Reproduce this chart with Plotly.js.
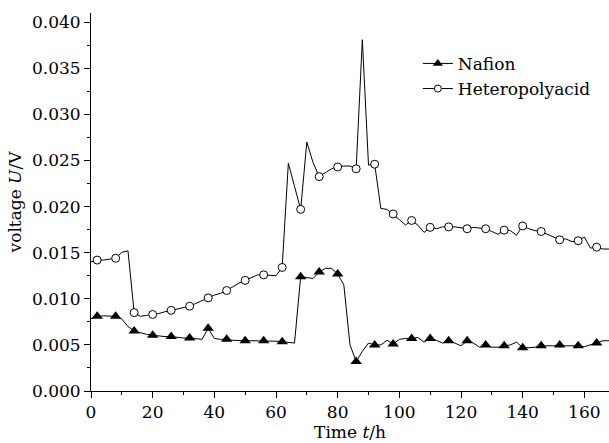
<!DOCTYPE html>
<html>
<head>
<meta charset="utf-8">
<script src="https://cdn.plot.ly/plotly-3.0.1.min.js"></script>
<style>html,body{margin:0;padding:0;background:#fff}#chart{width:609px;height:443px}</style>
</head>
<body>
<div id="chart"></div>
<script>
// Time (h) of each recorded sample
const hours = [0,2,4,6,8,10,12,14,16,18,20,22,24,26,28,30,32,34,36,38,40,42,44,46,48,50,52,54,56,58,60,62,64,66,68,70,72,74,76,78,80,82,84,86,88,90,92,94,96,98,100,102,104,106,108,110,112,114,116,118,120,122,124,126,128,130,132,134,136,138,140,142,144,146,148,150,152,154,156,158,160,162,164,166,168];

// Voltage (V), Nafion membrane
const nafion = [0.00785,0.0081,0.00815,0.0081,0.0081,0.0078,0.0070,0.0065,0.0063,0.00615,0.00605,0.00595,0.0059,0.0059,0.0058,0.00575,0.00575,0.00565,0.0056,0.0068,0.0057,0.0056,0.0056,0.0055,0.00545,0.00545,0.00545,0.00545,0.00545,0.0054,0.0054,0.00535,0.0053,0.0052,0.0124,0.0123,0.0122,0.0129,0.0133,0.0133,0.0127,0.0115,0.0050,0.0032,0.0043,0.0052,0.0050,0.0050,0.0055,0.0051,0.0056,0.0057,0.0057,0.0058,0.0053,0.0057,0.0055,0.0052,0.00545,0.0052,0.0049,0.00545,0.0052,0.00475,0.0050,0.00475,0.00475,0.0049,0.0050,0.0053,0.0047,0.0047,0.00475,0.0049,0.0049,0.0049,0.0050,0.0049,0.0049,0.0049,0.0048,0.0050,0.0052,0.00545,0.00545];

// Voltage (V), heteropolyacid membrane
const heteropolyacid = [0.0140,0.0142,0.0142,0.0143,0.0144,0.01505,0.0152,0.0085,0.0081,0.0082,0.0083,0.0084,0.0086,0.00875,0.0089,0.0091,0.0092,0.0095,0.0098,0.0101,0.0104,0.0106,0.0109,0.0113,0.0117,0.0120,0.0123,0.0126,0.0126,0.01255,0.0125,0.0134,0.0247,0.0222,0.0197,0.0270,0.0248,0.02325,0.0237,0.0241,0.0243,0.0244,0.0244,0.0241,0.0381,0.0245,0.0246,0.0198,0.0197,0.0192,0.0186,0.0180,0.0185,0.0180,0.0172,0.01775,0.0176,0.0178,0.0178,0.0178,0.0177,0.0176,0.01775,0.0177,0.0176,0.0173,0.0170,0.01745,0.0174,0.0169,0.0179,0.0176,0.0174,0.0173,0.0170,0.0167,0.0164,0.0165,0.0162,0.0163,0.0167,0.0155,0.0156,0.0154,0.0154];

// Hours at which a symbol is drawn on each curve
const markerHours = [2,8,14,20,26,32,38,44,50,56,62,68,74,80,86,92,98,104,110,116,122,128,134,140,146,152,158,164];

const seriesNames = ["Nafion", "Heteropolyacid"];

function pick(values) {
  return markerHours.map(h => values[hours.indexOf(h)]);
}

const lineStyle = {color: "#000", width: 1};
const triMarker = {symbol: "triangle-up", size: 10, color: "#000", line: {color: "#000", width: 0}};
const circMarker = {symbol: "circle", size: 8, color: "#fff", line: {color: "#000", width: 1}};
const triLegend = {symbol: "triangle-up", size: 9, color: "#000", line: {color: "#000", width: 0}};
const circLegend = {symbol: "circle", size: 7, color: "#fff", line: {color: "#000", width: 1}};

const traces = [
  {x: hours, y: nafion, mode: "lines", line: lineStyle, showlegend: false, hoverinfo: "skip"},
  {x: hours, y: heteropolyacid, mode: "lines", line: lineStyle, showlegend: false, hoverinfo: "skip"},
  {x: markerHours, y: pick(nafion), mode: "markers", marker: triMarker, showlegend: false, cliponaxis: false},
  {x: markerHours, y: pick(heteropolyacid), mode: "markers", marker: circMarker, showlegend: false, cliponaxis: false},
  {x: [null], y: [null], name: seriesNames[0], mode: "lines+markers", line: lineStyle, marker: triLegend},
  {x: [null], y: [null], name: seriesNames[1], mode: "lines+markers", line: lineStyle, marker: circLegend}
];

const fam = "DejaVu Serif";
const txt = {family: fam, size: 17, color: "#000"};

const layout = {
  width: 609, height: 443,
  margin: {l: 91, r: 0, t: 13, b: 52},
  paper_bgcolor: "#fff", plot_bgcolor: "#fff",
  font: txt,
  showlegend: true,
  legend: {x: 0.631, y: 0.913, xanchor: "left", yanchor: "top", bgcolor: "rgba(0,0,0,0)", font: txt, tracegroupgap: 0},
  xaxis: {
    range: [0, 168], tick0: 0, dtick: 20,
    showline: true, linecolor: "#000", linewidth: 1,
    ticks: "outside", ticklen: 6, tickwidth: 1, tickcolor: "#000",
    minor: {dtick: 10, ticks: "outside", ticklen: 3, tickcolor: "#000", showgrid: false},
    showgrid: false, zeroline: false,
    tickfont: txt,
    title: {text: "Time <i>t</i>/h", font: txt, standoff: 4}
  },
  yaxis: {
    range: [0, 0.041], tick0: 0, dtick: 0.005, tickformat: ".3f",
    showline: true, linecolor: "#000", linewidth: 1,
    ticks: "outside", ticklen: 6, tickwidth: 1, tickcolor: "#000",
    minor: {dtick: 0.0025, ticks: "outside", ticklen: 3, tickcolor: "#000", showgrid: false},
    showgrid: false, zeroline: false,
    tickfont: txt,
    title: {text: "voltage <i>U</i>/V", font: txt, standoff: 5}
  }
};

Plotly.newPlot("chart", traces, layout, {staticPlot: true, displayModeBar: false});
</script>
</body>
</html>
